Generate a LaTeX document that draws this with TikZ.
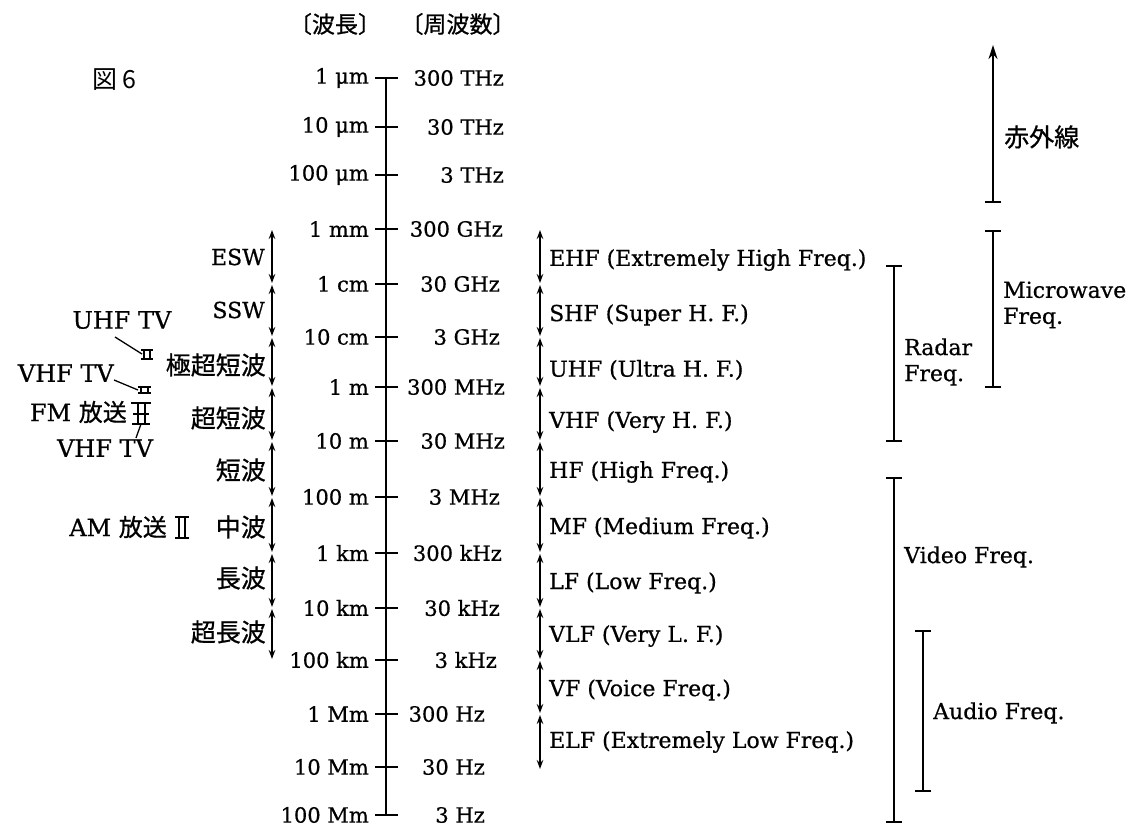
\documentclass[tikz,border=0pt]{standalone}
\usepackage{fontspec}
\setmainfont{DejaVu Serif}[FakeBold=0.6]
\newfontfamily\jp{Noto Sans CJK JP}[FakeBold=0.8]
\newfontfamily\jpfig{Noto Sans CJK JP}
\usetikzlibrary{arrows.meta}
\tikzset{
 lab/.style={font=\fontsize{21}{24}\selectfont, inner sep=0pt},
 bandlab/.style={font=\fontsize{22}{26}\selectfont, inner sep=0pt, anchor=west, align=left},
 jlab/.style={font=\jp\fontsize{25}{28}\selectfont, inner sep=0pt},
 hlab/.style={font=\jp\fontsize{23}{26}\selectfont, inner sep=0pt},
 tvlab/.style={font=\fontsize{24}{26}\selectfont, inner sep=0pt},
 axisline/.style={line width=1.8pt},
 tickline/.style={line width=1.5pt},
 dbl/.style={line width=1.4pt, shorten >=1pt, shorten <=1pt, {Stealth[length=9pt,width=6.5pt]}-{Stealth[length=9pt,width=6.5pt]}},
 ibar/.style={line width=1.8pt, {Bar[width=16pt]}-{Bar[width=16pt]}},
 mk/.style={line width=1.3pt},
}
\begin{document}
\begin{tikzpicture}[x=1pt,y=-1pt]
\useasboundingbox (0,0) rectangle (1131,826);
\fill[white] (0,0) rectangle (1131,826);

% figure number
\node[font=\jpfig\fontsize{25}{28}\selectfont, inner sep=0pt, anchor=west] (fig) at (92,80) {図 6};

% headers
\node[hlab] (hw) at (335,24) {〔波長〕};
\node[hlab] (hf) at (458,24) {〔周波数〕};

% scale
\foreach \n/\y/\wl/\fr/\fx in {
 1/78/1 μm/300 THz/504,
 2/127/10 μm/30 THz/504,
 3/175/100 μm/3 THz/504,
 4/229/1 mm/300 GHz/503,
 5/284/1 cm/30 GHz/500,
 6/337/10 cm/3 GHz/500,
 7/387/1 m/300 MHz/505,
 8/441/10 m/30 MHz/505,
 9/497/100 m/3 MHz/500,
 10/553/1 km/300 kHz/502,
 11/608/10 km/30 kHz/500,
 12/660/100 km/3 kHz/497,
 13/714/1 Mm/300 Hz/485,
 14/767/10 Mm/30 Hz/485,
 15/815/100 Mm/3 Hz/485}{
 \coordinate (t\n) at (386,\y);
 \draw[tickline] (375,\y) -- (398,\y);
 \node[lab,anchor=east] (w\n) at (369,\y) {\wl};
 \node[lab,anchor=east] (f\n) at (\fx,\y) {\fr};
}
\draw[axisline] (t1) -- (t15);

% left wave bands
\foreach \n/\y in {1/229,2/284,3/337,4/387,5/441,6/497,7/553,8/608,9/660}{
 \coordinate (L\n) at (272,\y);
}
\foreach \a/\b in {1/2,2/3,3/4,4/5,5/6,6/7,7/8,8/9}{
 \draw[dbl] (L\a) -- (L\b);
}
\node[bandlab,anchor=east] (esw) at (265,257) {ESW};
\node[bandlab,anchor=east] (ssw) at (265,310) {SSW};
\node[jlab,anchor=east] (gch) at (266,365) {極超短波};
\node[jlab,anchor=east] (ch) at (266,418) {超短波};
\node[jlab,anchor=east] (tan) at (266,470) {短波};
\node[jlab,anchor=east] (chu) at (266,527) {中波};
\node[jlab,anchor=east] (cho) at (266,578) {長波};
\node[jlab,anchor=east] (cch) at (266,632) {超長波};

% right frequency bands
\foreach \n/\y in {1/229,2/284,3/337,4/387,5/441,6/497,7/553,8/608,9/660,10/714,11/770}{
 \coordinate (R\n) at (540,\y);
}
\foreach \a/\b in {1/2,2/3,3/4,4/5,5/6,6/7,7/8,8/9,9/10,10/11}{
 \draw[dbl] (R\a) -- (R\b);
}
\node[bandlab] (ehf) at (549,260) {EHF (Extremely High Freq.)};
\node[bandlab] (shf) at (549,315) {SHF (Super H. F.)};
\node[bandlab] (uhf) at (549,370) {UHF (Ultra H. F.)};
\node[bandlab] (vhf) at (549,422) {VHF (Very H. F.)};
\node[bandlab] (hf) at (549,472) {HF (High Freq.)};
\node[bandlab] (mf) at (549,528) {MF (Medium Freq.)};
\node[bandlab] (lf) at (549,583) {LF (Low Freq.)};
\node[bandlab] (vlf) at (549,636) {VLF (Very L. F.)};
\node[bandlab] (vf) at (549,690) {VF (Voice Freq.)};
\node[bandlab] (elf) at (549,742) {ELF (Extremely Low Freq.)};

% right range bars
\coordinate (irB) at (993,203);
\coordinate (irT) at (993,45);
\draw[line width=1.8pt, {Bar[width=16pt]}-{Stealth[length=14pt,width=9pt]}] (irB) -- (irT);
\node[jlab,anchor=west] (ir) at (1004,137) {赤外線};

\coordinate (mwT) at (993,230);
\coordinate (mwB) at (993,388);
\draw[ibar] (mwT) -- (mwB);
\node[bandlab] (mw) at (1003,305) {Microwave\\Freq.};

\coordinate (rdT) at (894,265);
\coordinate (rdB) at (894,442);
\draw[ibar] (rdT) -- (rdB);
\node[bandlab] (rd) at (904,362) {Radar\\Freq.};

\coordinate (vdT) at (894,477);
\coordinate (vdB) at (894,823);
\draw[ibar] (vdT) -- (vdB);
\node[bandlab] (vd) at (904,557) {Video Freq.};

\coordinate (auT) at (923,630);
\coordinate (auB) at (923,792);
\draw[ibar] (auT) -- (auB);
\node[bandlab] (au) at (933,713) {Audio Freq.};

% broadcast markers
\node[tvlab] (uhftv) at (122,320) {UHF TV};
\node[tvlab,anchor=east] (vhftv1) at (114,373) {VHF TV};
\node[tvlab,anchor=east] (fm) at (127,412) {FM {\jp 放送}};
\node[tvlab] (vhftv2) at (105,448) {VHF TV};
\node[tvlab,anchor=east] (am) at (167,527) {AM {\jp 放送}};

% UHF TV marker
\coordinate (mU) at (142,354);
\draw[mk] (141,350) -- (153,350) (141,359) -- (153,359) (144,350) -- (144,359) (150,350) -- (150,359);
\draw[mk] (115,337) -- (mU);
% upper VHF TV marker
\coordinate (mV) at (138,390);
\draw[mk] (138,387) -- (151,387) (138,393) -- (151,393) (141,387) -- (141,393) (148,387) -- (148,393);
\draw[mk] (114,380) -- (mV);
% FM + lower VHF marker
\coordinate (mF) at (141,424);
\coordinate (mF2) at (136,438);
\draw[mk] (131,403) -- (151,403) (133,414) -- (149,414) (132,424) -- (150,424) (138,403) -- (138,424) (145,403) -- (145,424);
\draw[mk] (mF) -- (mF2);
% AM marker
\draw[mk] (175,517) -- (189,517) (175,538) -- (189,538) (179,517) -- (179,538) (185,517) -- (185,538);
\end{tikzpicture}
\end{document}
